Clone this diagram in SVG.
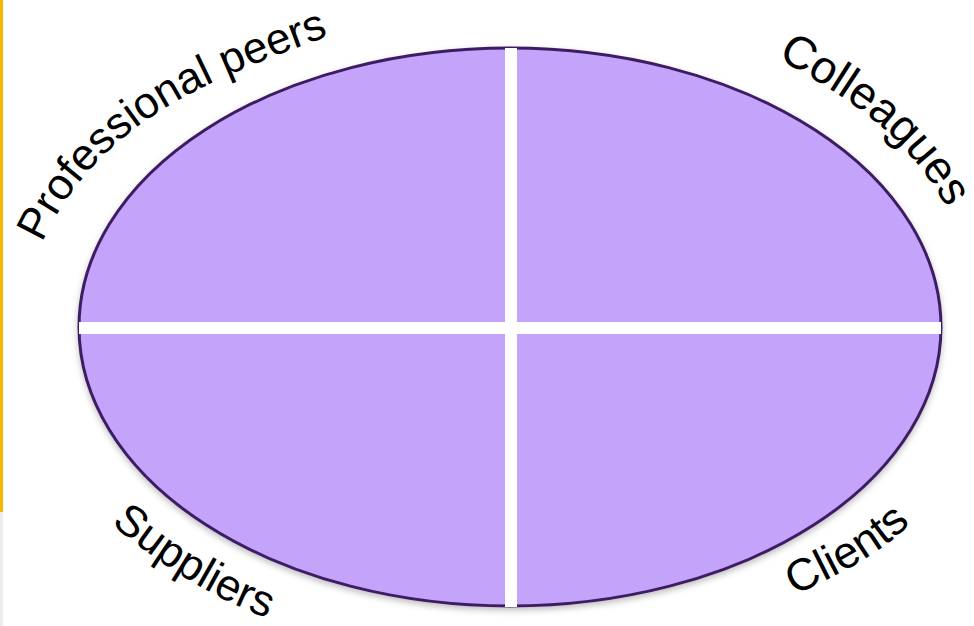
<svg xmlns="http://www.w3.org/2000/svg" width="974" height="626" viewBox="0 0 974 626">
<style>
.lbl{font-family:"Liberation Sans",Arial,sans-serif;font-size:44px;fill:#000}
.div{fill:#ffffff}
</style>
<defs>
<filter id="sh" x="-10%" y="-10%" width="120%" height="125%">
<feDropShadow dx="0" dy="3" stdDeviation="3" flood-color="#000" flood-opacity="0.25"/>
</filter>
<path id="pPro" d="M 42 243 C 98 123 203 81 340 32" fill="none"/>
<path id="pCol" d="M 777 58 C 847 98 913 135 956 226" fill="none"/>
<path id="pSup" d="M 111 524 C 153 559 212 600 278 622" fill="none"/>
<path id="pCli" d="M 795 596 C 835 574 888 556 932 500" fill="none"/>
</defs>
<rect x="0" y="0" width="3" height="512" fill="#f5b800"/>
<rect x="0" y="512" width="3" height="114" fill="#ececec"/>
<g id="oval">
<ellipse cx="510" cy="327" rx="431" ry="279" fill="#c4a3fa" stroke="#3d1d63" stroke-width="3" filter="url(#sh)"/>
</g>
<g id="connectors">
<rect class="div" x="505" y="48" width="12" height="559"/>
<rect class="div" x="79" y="322" width="862" height="12"/>
</g>
<g id="professional-peers"><text class="lbl"><textPath href="#pPro">Professional peers</textPath></text></g>
<g id="colleagues"><text class="lbl" style="font-size:46px"><textPath href="#pCol">Colleagues</textPath></text></g>
<g id="suppliers"><text class="lbl"><textPath href="#pSup">Suppliers</textPath></text></g>
<g id="clients"><text class="lbl" style="font-size:45px"><textPath href="#pCli">Clients</textPath></text></g>
</svg>
